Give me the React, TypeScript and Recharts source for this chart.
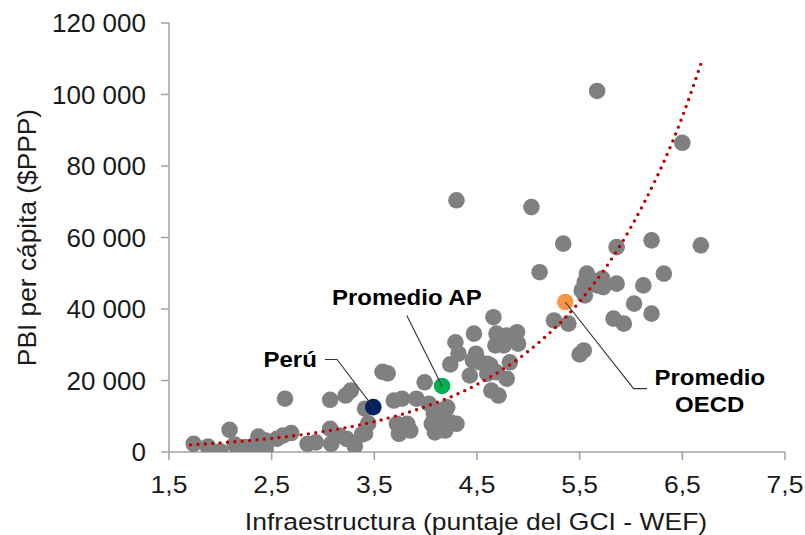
import React from 'react';
import { ScatterChart, Scatter, XAxis, YAxis } from 'recharts';

// ---------- data ----------
const X_TICKS = [1.5, 2.5, 3.5, 4.5, 5.5, 6.5, 7.5];
const Y_TICKS = [0, 20000, 40000, 60000, 80000, 100000, 120000];

const infraScore = [
  1.74, 1.88, 2.0, 2.09, 2.14, 2.24, 2.33, 2.37, 2.44, 2.44, 2.55, 2.63, 2.61, 2.69, 2.85, 2.93,
  3.07, 3.22, 3.27, 3.07, 3.08, 3.16, 3.23, 3.31, 3.38, 3.41, 3.44, 3.41, 3.58, 3.63,
  3.69, 3.77, 3.91, 3.99, 3.72, 3.82, 3.74, 3.85, 4.03, 4.08, 4.14, 4.21, 4.06, 4.14, 4.24, 4.3,
  4.09, 4.19, 4.24, 4.29, 4.32, 4.47, 4.46, 4.49, 4.53, 4.43, 4.6, 4.64, 4.71, 4.66, 4.69, 4.79,
  4.89, 4.9, 4.68, 4.76, 4.6, 4.69, 4.79, 4.82, 4.63,
  5.25, 5.39, 5.5, 5.54, 5.52, 5.55, 5.67, 5.73, 5.86, 5.57, 5.62, 5.72, 5.55, 6.03, 6.12,
  5.83, 5.93, 6.2, 6.32, 5.34, 5.11, 5.86, 6.2, 6.68, 5.67, 6.5, 4.3, 5.03,
];
const gdpPerCapita = [
  2300, 1500, 200, 6200, 2100, 1350, 1800, 4300, 900, 3200, 3700, 14900, 4600, 5300, 2300, 2700,
  14600, 15800, 17200, 6500, 2300, 4600, 3700, 1600, 4900, 12100, 8000, 5200, 22400, 22000,
  14400, 14900, 14900, 19500, 7900, 7900, 5100, 6000, 13500, 10700, 11600, 12500, 7900, 7900, 8300, 7900,
  5500, 6000, 24500, 30700, 27500, 33100, 25600, 27500, 25100, 21400, 24700, 17200, 15800, 37700, 33100, 32600,
  33500, 30300, 29800, 29800, 21900, 22300, 20500, 25100, 24200,
  36800, 35900, 27300, 28400, 45200, 47500, 46600, 46100, 47100, 49900, 48000, 48500, 43800, 41500, 46600,
  37300, 35900, 38700, 49900, 58300, 50300, 57300, 59200, 57800, 101000, 86500, 70400, 68500,
];

const highlightLabels = ['Perú', 'Promedio AP', 'Promedio\nOECD'];
const highlightScore = [3.49, 4.16, 5.36];
const highlightGdp = [12550, 18480, 41950];

const trendScore = [1.71, 2.0, 2.5, 3.0, 3.5, 4.0, 4.5, 5.0, 5.5, 6.0, 6.5, 6.68];
const trendGdp = [2000, 2560, 3820, 5700, 8500, 12700, 18900, 28200, 42100, 62900, 93800, 108500];

const countries = infraScore.map((x, i) => ({ x, y: gdpPerCapita[i] }));
const highlights = highlightLabels.map((name, i) => ({ x: highlightScore[i], y: highlightGdp[i], name, i }));
const trend = trendScore.map((x, i) => ({ x, y: trendGdp[i] }));

// ---------- styles ----------
const FONT = '"Liberation Sans", Arial, sans-serif';
const TEXT = '#1a1a1a';
const AXIS = '#a0a0a0';
const DOT_R = 8.3;

const HL_STYLE = [
  { fill: '#002060', leader: [[0, 0], [-36.3, -47.7], [-48.3, -47.7]], tx: -56.5, ty: -40, anchor: 'end' },
  { fill: '#00b050', leader: [[0, 0], [-35.3, -70.5]], tx: -35.3, ty: -80.5, anchor: 'middle' },
  { fill: '#f79646', leader: [[0, 0], [68.3, 86.6], [81.7, 86.6]], tx: 144.5, ty: 83.3, anchor: 'middle' },
];

const fmtY = (v: number) => String(v).replace(/\B(?=(\d{3})+(?!\d))/g, ' ');
const fmtX = (v: number) => v.toFixed(1).replace('.', ',');

const YTick = (props: any) => {
  const { x, y, payload } = props;
  return (
    <text x={x} y={y} dy={9.3} textAnchor="end" fontFamily={FONT} fontSize={26} fill={TEXT}>
      {fmtY(payload.value)}
    </text>
  );
};

const XTick = (props: any) => {
  const { x, y, payload } = props;
  return (
    <text
      transform={`translate(${x},${y + 16.4}) scale(1,0.87)`}
      textAnchor="middle"
      fontFamily={FONT}
      fontSize={26.5}
      fill={TEXT}
    >
      {fmtX(payload.value)}
    </text>
  );
};

const XTitle = (props: any) => {
  const vb = props.viewBox || { x: 169, y: 452, width: 616, height: 83 };
  return (
    <text
      transform={`translate(${vb.x + vb.width / 2 - 1},${vb.y + 78.3}) scale(1,0.87)`}
      textAnchor="middle"
      fontFamily={FONT}
      fontSize={26.5}
      fill={TEXT}
    >
      Infraestructura (puntaje del GCI - WEF)
    </text>
  );
};

const YTitle = (props: any) => {
  const vb = props.viewBox || { x: 0, y: 23, width: 169, height: 429 };
  return (
    <text
      transform={`translate(${vb.x + 35.7},${vb.y + vb.height / 2}) rotate(-90)`}
      textAnchor="middle"
      fontFamily={FONT}
      fontSize={26.3}
      fill={TEXT}
    >
      PBI per cápita ($PPP)
    </text>
  );
};

const GrayDot = (props: any) => <circle cx={props.cx} cy={props.cy} r={DOT_R} fill="#808080" />;

const HighlightShape = (props: any) => {
  const { cx, cy, payload } = props;
  const st = HL_STYLE[payload.i];
  const lines = String(payload.name).split('\n');
  return (
    <g>
      <circle cx={cx} cy={cy} r={DOT_R} fill={st.fill} />
      <polyline
        points={st.leader.map(([dx, dy]) => `${cx + dx},${cy + dy}`).join(' ')}
        fill="none"
        stroke="#333333"
        strokeWidth={1.1}
      />
      {lines.map((t, k) => (
        <text
          key={k}
          transform={`translate(${cx + st.tx},${cy + st.ty + k * 26.7}) scale(1,0.9)`}
          textAnchor={st.anchor as any}
          fontFamily={FONT}
          fontWeight="bold"
          fontSize={24}
          fill="#000"
        >
          {t}
        </text>
      ))}
    </g>
  );
};

export default function App() {
  return (
    <div style={{ position: 'absolute', left: 0, top: 0, width: 805, height: 535, background: '#fff' }}>
      <ScatterChart width={805} height={535} margin={{ top: 23, right: 20, bottom: 0, left: 0 }}>
        <XAxis
          type="number"
          dataKey="x"
          domain={[1.5, 7.5]}
          ticks={X_TICKS}
          interval={0}
          height={83}
          tickSize={8}
          tickMargin={17}
          axisLine={{ stroke: AXIS, strokeWidth: 1.5 }}
          tickLine={{ stroke: AXIS, strokeWidth: 1.5 }}
          tick={XTick}
          label={XTitle}
          allowDataOverflow
        />
        <YAxis
          type="number"
          dataKey="y"
          domain={[0, 120000]}
          ticks={Y_TICKS}
          interval={0}
          width={169}
          tickSize={8}
          tickMargin={15}
          axisLine={{ stroke: AXIS, strokeWidth: 1.5 }}
          tickLine={{ stroke: AXIS, strokeWidth: 1.5 }}
          tick={YTick}
          label={YTitle}
          allowDataOverflow
        />
        <Scatter data={countries} shape={GrayDot} isAnimationActive={false} />
        <Scatter
          data={trend}
          shape={() => <g />}
          line={{ stroke: '#c00000', strokeWidth: 3.4, strokeDasharray: '0 7.4', strokeLinecap: 'round' }}
          lineType="joint"
          lineJointType="monotoneX"
          isAnimationActive={false}
        />
        <Scatter data={highlights} shape={HighlightShape} isAnimationActive={false} />
      </ScatterChart>
    </div>
  );
}
